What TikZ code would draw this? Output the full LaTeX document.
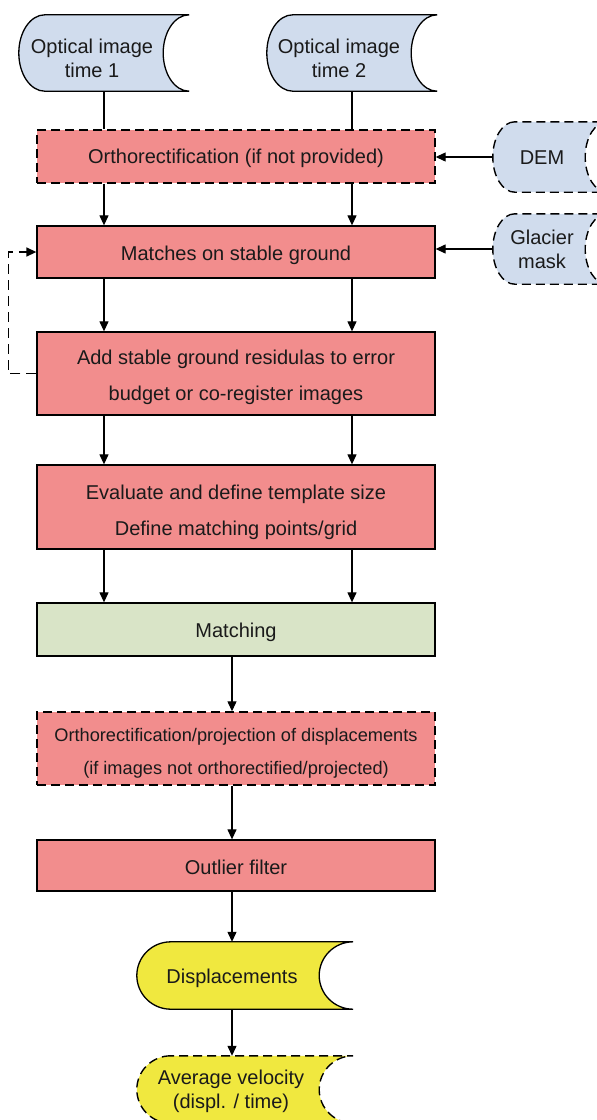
\documentclass[tikz,border=0pt]{standalone}
\usepackage{fontspec}
\setmainfont{Liberation Sans}
\usetikzlibrary{arrows.meta,calc}
\definecolor{pinkfill}{HTML}{F28D8D}
\definecolor{bluefill}{HTML}{D0DCED}
\definecolor{greenfill}{HTML}{D9E4C7}
\definecolor{yellowfill}{HTML}{F0E83F}
\definecolor{inkgrey}{HTML}{1A1A1A}

% Stored-data outline (convex left end, concave right end) drawn over a frame node
% #1 frame node, #2 depth of the curved ends, #3 path style
\newcommand{\storeshape}[3]{%
  \path[#3] let \p1=(#1.north west), \p2=(#1.south east) in
    ({\x1+#2},\y1) arc[start angle=90,end angle=270,x radius=#2,y radius={(\y1-\y2)/2}]
    -- (\x2,\y2) arc[start angle=270,end angle=90,x radius=#2,y radius={(\y1-\y2)/2}]
    -- cycle;}

\begin{document}
\begin{tikzpicture}[x=1pt,y=-1pt,
  every node/.style={text=inkgrey, font=\fontsize{20}{24}\selectfont},
  procbox/.style={rectangle, draw=black, line width=1.3pt, fill=pinkfill,
    minimum width=398pt, inner sep=0pt},
  optbox/.style={procbox, line width=1.4pt, dash pattern=on 9pt off 5pt},
  boxtext/.style={align=center, inner sep=0pt, font=\fontsize{20}{36}\selectfont},
  frame/.style={rectangle, inner sep=0pt},
  label/.style={align=center, inner sep=0pt},
  storeline/.style={draw=black, line width=1.3pt},
  storedash/.style={storeline, line width=1.4pt, dash pattern=on 9pt off 5pt},
  plain/.style={draw=black, line width=1.2pt},
  flow/.style={plain, -{Triangle[length=10pt,width=9pt]}},
  feedback/.style={flow, line width=1.5pt, dash pattern=on 10pt off 6pt},
]
\useasboundingbox (0,0) rectangle (597,1120);

% column positions
\coordinate (mid) at (232,0);

% input data
\node[frame, minimum width=170pt, minimum height=76pt] (opt1) at (104,53) {};
\storeshape{opt1}{26pt}{storeline, fill=bluefill}
\node[label] (opt1t) at ($(opt1.center)+(-12,5)$) {Optical image\\time 1};

\node[frame, minimum width=170pt, minimum height=76pt] (opt2) at (352,53) {};
\storeshape{opt2}{26pt}{storeline, fill=bluefill}
\node[label] (opt2t) at ($(opt2.center)+(-13,5)$) {Optical image\\time 2};

\node[frame, minimum width=114pt, minimum height=70pt] (dem) at (550,157) {};
\storeshape{dem}{22pt}{storedash, fill=bluefill}
\node[label] (demt) at ($(dem.center)+(-8,1)$) {DEM};

\node[frame, minimum width=114pt, minimum height=70pt] (glac) at (550,249) {};
\storeshape{glac}{22pt}{storedash, fill=bluefill}
\node[label] (glact) at ($(glac.center)+(-8,0)$) {Glacier\\mask};

% processing steps
\node[optbox, minimum height=53pt] (ortho) at (236,156.5) {};
\node[boxtext] (orthot) at ($(ortho.center)+(0,2)$) {Orthorectification (if not provided)};

\node[procbox, minimum height=52pt] (matches) at (236,252) {};
\node[boxtext] (matchest) at ($(matches.center)+(0,3)$) {Matches on stable ground};

\node[procbox, minimum height=83pt] (addst) at (236,373.5) {};
\node[boxtext] (addstt) at ($(addst.center)+(0,4)$)
  {Add stable ground residulas to error\\budget or co-register images};

\node[procbox, minimum height=84pt] (evalb) at (236,507) {};
\node[boxtext] (evalbt) at ($(evalb.center)+(0,5)$)
  {Evaluate and define template size\\Define matching points/grid};

\node[procbox, fill=greenfill, minimum height=53pt] (matching) at (236,629.5) {};
\node[boxtext] (matchingt) at ($(matching.center)+(0,3)$) {Matching};

\node[optbox, minimum height=73pt] (ortho2) at (236,748.5) {};
\node[boxtext, font=\fontsize{18.2}{33}\selectfont] (ortho2t) at ($(ortho2.center)+(0,5)$)
  {Orthorectification/projection of displacements\\(if images not orthorectified/projected)};

\node[procbox, minimum height=51pt] (outlier) at (236,865.5) {};
\node[boxtext] (outliert) at ($(outlier.center)+(0,2)$) {Outlier filter};

% results
\node[frame, minimum width=216pt, minimum height=67pt] (disp) at (245,975.5) {};
\storeshape{disp}{34pt}{storeline, fill=yellowfill}
\node[label] (dispt) at ($(disp.center)+(-13,3)$) {Displacements};

\node[frame, minimum width=216pt, minimum height=67pt] (avg) at (245,1089.5) {};
\storeshape{avg}{34pt}{storedash, fill=yellowfill}
\node[label] (avgt) at ($(avg.center)+(-14,2)$) {Average velocity\\(displ. / time)};

% connectors
\draw[plain] (opt1.south) -- (opt1.south |- ortho.north);
\draw[plain] (opt2.south) -- (opt2.south |- ortho.north);
\draw[flow] (dem.west) -- (dem.west -| ortho.east);
\draw[flow] (glac.west) -- (glac.west -| matches.east);

\foreach \col in {opt1,opt2}{
  \draw[flow] (ortho.south -| \col.south) -- (matches.north -| \col.south);
  \draw[flow] (matches.south -| \col.south) -- (addst.north -| \col.south);
  \draw[flow] (addst.south -| \col.south) -- (evalb.north -| \col.south);
  \draw[flow] (evalb.south -| \col.south) -- (matching.north -| \col.south);
}
\draw[feedback] (addst.west) -- ++(-28,0) |- (matches.west);

\draw[flow] (matching.south -| mid) -- (ortho2.north -| mid);
\draw[flow] (ortho2.south -| mid) -- (outlier.north -| mid);
\draw[flow] (outlier.south -| mid) -- (disp.north -| mid);
\draw[flow] (disp.south -| mid) -- (avg.north -| mid);
\end{tikzpicture}
\end{document}
